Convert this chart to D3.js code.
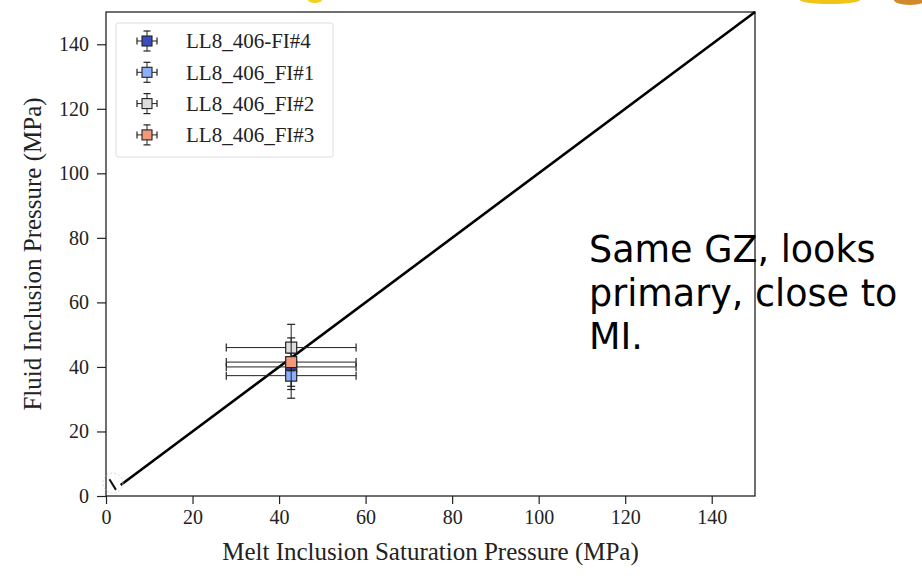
<!DOCTYPE html>
<html>
<head>
<meta charset="utf-8">
<script src="https://cdn.jsdelivr.net/npm/d3@7"></script>
<style>
  body { margin: 0; background: #fff; }
</style>
</head>
<body>
<div id="chart"></div>
<script>
"use strict";

// data
const names = ["LL8_406-FI#4", "LL8_406_FI#1", "LL8_406_FI#2", "LL8_406_FI#3"];
const colors = ["#3b4cc0", "#8db0fe", "#dddddd", "#f4987a"];
const meltP = [42.8, 42.8, 42.8, 42.8];
const meltErr = [15, 15, 15, 15];
const fluidP = [40, 37.3, 46, 41.5];
const fluidErr = [7, 7, 7.2, 7.5];
const ticks = [0, 20, 40, 60, 80, 100, 120, 140];
const noteLines = ["Same GZ, looks", "primary, close to", "MI."];

const W = 922, H = 576;
const margin = { left: 106, right: 167, top: 12, bottom: 80 };
const serif = "'Liberation Serif', 'DejaVu Serif', serif";

const svg = d3.select("#chart").append("svg")
  .attr("width", W)
  .attr("height", H);

// bits of the slide photo peeking in at the top edge
const blobs = [[315, 0, 7, 3, "#f2d21a"], [830, 0, 30, 4, "#f0c419"], [910, 0, 16, 5, "#d08a2a"]];
svg.selectAll("ellipse.blob").data(blobs).join("ellipse")
  .attr("class", "blob")
  .attr("cx", d => d[0]).attr("cy", d => d[1])
  .attr("rx", d => d[2]).attr("ry", d => d[3])
  .attr("fill", d => d[4]);

const x = d3.scaleLinear().domain([0, 150]).range([margin.left, W - margin.right]);
const y = d3.scaleLinear().domain([0, 150]).range([H - margin.bottom, margin.top]);

// axes
const xAxis = svg.append("g")
  .attr("transform", `translate(0,${H - margin.bottom})`)
  .call(d3.axisBottom(x).tickValues(ticks).tickSize(8).tickPadding(6));
const yAxis = svg.append("g")
  .attr("transform", `translate(${margin.left},0)`)
  .call(d3.axisLeft(y).tickValues(ticks).tickSize(9).tickPadding(8));

[xAxis, yAxis].forEach(a => {
  a.select(".domain").remove();
  a.selectAll("line").attr("stroke", "#222").attr("stroke-width", 1.2);
  a.selectAll("text").attr("font-size", 20).attr("font-family", serif).attr("fill", "#222");
});

// frame
svg.append("rect")
  .attr("x", x(0)).attr("y", y(150))
  .attr("width", x(150) - x(0)).attr("height", y(0) - y(150))
  .attr("fill", "none").attr("stroke", "#222").attr("stroke-width", 1.3);

// 1:1 line
svg.append("line")
  .attr("x1", x(3.4)).attr("y1", y(3.4))
  .attr("x2", x(150)).attr("y2", y(150))
  .attr("stroke", "#000").attr("stroke-width", 2.6);

// little leftover handle near the origin
svg.append("circle")
  .attr("cx", x(1.6)).attr("cy", y(4))
  .attr("r", 10).attr("fill", "none")
  .attr("stroke", "#ccc").attr("stroke-width", 0.8).attr("stroke-dasharray", "2,2");
svg.append("line")
  .attr("x1", x(0.8)).attr("y1", y(5.2))
  .attr("x2", x(2.3)).attr("y2", y(1.9))
  .attr("stroke", "#111").attr("stroke-width", 2);

// error bars + markers
const pts = names.map((n, i) => ({ name: n, color: colors[i], x: meltP[i], xe: meltErr[i], y: fluidP[i], ye: fluidErr[i] }));
const cap = 4;

const g = svg.selectAll("g.pt").data(pts).join("g").attr("class", "pt");
g.append("line")
  .attr("x1", d => x(d.x - d.xe)).attr("x2", d => x(d.x + d.xe))
  .attr("y1", d => y(d.y)).attr("y2", d => y(d.y))
  .attr("stroke", "#222").attr("stroke-width", 1);
g.append("line")
  .attr("x1", d => x(d.x)).attr("x2", d => x(d.x))
  .attr("y1", d => y(d.y - d.ye)).attr("y2", d => y(d.y + d.ye))
  .attr("stroke", "#222").attr("stroke-width", 1);
g.selectAll("line.capx")
  .data(d => [[d.x - d.xe, d.y], [d.x + d.xe, d.y]]).join("line")
  .attr("x1", c => x(c[0])).attr("x2", c => x(c[0]))
  .attr("y1", c => y(c[1]) - cap).attr("y2", c => y(c[1]) + cap)
  .attr("stroke", "#222").attr("stroke-width", 1.2);
g.selectAll("line.capy")
  .data(d => [[d.x, d.y - d.ye], [d.x, d.y + d.ye]]).join("line")
  .attr("x1", c => x(c[0]) - cap).attr("x2", c => x(c[0]) + cap)
  .attr("y1", c => y(c[1])).attr("y2", c => y(c[1]))
  .attr("stroke", "#222").attr("stroke-width", 1.2);
g.append("rect")
  .attr("x", d => x(d.x) - 5.5).attr("y", d => y(d.y) - 5.5)
  .attr("width", 11).attr("height", 11)
  .attr("fill", d => d.color).attr("stroke", "#222").attr("stroke-width", 1.2);

// legend
const lg = svg.append("g");
lg.append("rect")
  .attr("x", 116).attr("y", 23).attr("width", 217).attr("height", 134)
  .attr("fill", "#fff").attr("stroke", "#ddd").attr("stroke-width", 1).attr("rx", 2);
const item = lg.selectAll("g.item").data(pts).join("g")
  .attr("class", "item")
  .attr("transform", (d, i) => `translate(147,${41 + i * 31.3})`);
item.append("line").attr("x1", -10).attr("x2", 10).attr("stroke", "#222");
item.append("line").attr("y1", -10).attr("y2", 10).attr("stroke", "#222");
[[-10, 0, "v"], [10, 0, "v"], [0, -10, "h"], [0, 10, "h"]].forEach(c => {
  item.append("line")
    .attr("x1", c[2] === "v" ? c[0] : c[0] - 3.5).attr("x2", c[2] === "v" ? c[0] : c[0] + 3.5)
    .attr("y1", c[2] === "v" ? c[1] - 3.5 : c[1]).attr("y2", c[2] === "v" ? c[1] + 3.5 : c[1])
    .attr("stroke", "#222").attr("stroke-width", 1.2);
});
item.append("rect")
  .attr("x", -5).attr("y", -5).attr("width", 10).attr("height", 10)
  .attr("fill", d => d.color).attr("stroke", "#222").attr("stroke-width", 1.1);
item.append("text")
  .attr("x", 39).attr("dy", "0.35em")
  .attr("font-size", 21).attr("font-family", serif).attr("fill", "#222")
  .text(d => d.name);

// axis titles
svg.append("text")
  .attr("x", (x(0) + x(150)) / 2).attr("y", 560)
  .attr("text-anchor", "middle").attr("font-size", 25)
  .attr("font-family", serif).attr("fill", "#222")
  .text("Melt Inclusion Saturation Pressure (MPa)");
svg.append("text")
  .attr("transform", `translate(41,${(y(0) + y(150)) / 2}) rotate(-90)`)
  .attr("text-anchor", "middle").attr("font-size", 25)
  .attr("font-family", serif).attr("fill", "#222")
  .text("Fluid Inclusion Pressure (MPa)");

// slide note, one text block with a tspan per line
svg.append("text")
  .attr("font-family", "'DejaVu Sans', sans-serif")
  .attr("font-size", 36.5)
  .attr("fill", "#000")
  .selectAll("tspan").data(noteLines).join("tspan")
  .attr("x", 589).attr("y", (d, i) => 262 + i * 43.5)
  .text(d => d);
</script>
</body>
</html>
